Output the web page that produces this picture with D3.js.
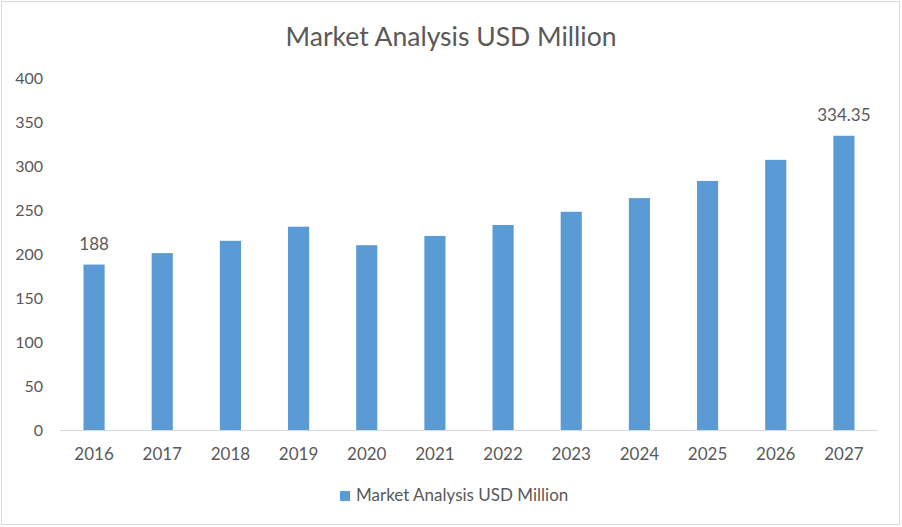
<!DOCTYPE html>
<html>
<head>
<meta charset="utf-8">
<script src="https://cdn.jsdelivr.net/npm/d3@7"></script>
<style>
  html, body { margin: 0; padding: 0; background: #fff; }
  svg { display: block; font-family: Lato, "Open Sans", sans-serif; }
</style>
</head>
<body>
<svg id="chart" width="902" height="527"></svg>
<script>
  // chart values
  var years = ["2016", "2017", "2018", "2019", "2020", "2021", "2022", "2023", "2024", "2025", "2026", "2027"];
  var values = [188, 201, 215, 231, 210, 220.5, 233, 248, 263.5, 283, 307, 334.35];
  var yTicks = [0, 50, 100, 150, 200, 250, 300, 350, 400];
  var labelled = { "2016": "188", "2027": "334.35" };
  var seriesName = "Market Analysis USD Million";

  var BLUE = "#5b9bd5", TEXT = "#595959", GRID = "#d9d9d9";
  var svg = d3.select("#chart");

  // outer frame
  svg.append("rect").attr("x", 1.5).attr("y", 1.5).attr("width", 898).attr("height", 523)
    .attr("fill", "#fff").attr("stroke", GRID).attr("stroke-width", 1);

  var x = d3.scaleBand().domain(years).range([60, 878]).paddingInner(0.69).paddingOuter(0.345);
  var y = d3.scaleLinear().domain([0, 400]).range([430, 78]);

  // title
  svg.append("text").attr("x", 451).attr("y", 46).attr("text-anchor", "middle")
    .attr("font-size", 26.5).attr("fill", TEXT).text(seriesName);

  // y tick labels (no axis line, no gridlines)
  svg.selectAll(".ytick").data(yTicks).enter().append("text").attr("class", "ytick")
    .attr("x", 43).attr("y", function (d) { return y(d); }).attr("dy", "0.35em")
    .attr("text-anchor", "end").attr("font-size", 16).attr("fill", TEXT)
    .text(function (d) { return d; });

  // bars
  svg.selectAll(".bar").data(years).enter().append("rect").attr("class", "bar")
    .attr("x", function (d) { return x(d); }).attr("width", x.bandwidth())
    .attr("y", function (d, i) { return y(values[i]); })
    .attr("height", function (d, i) { return y(0) - y(values[i]); })
    .attr("fill", BLUE);

  // baseline
  svg.append("line").attr("x1", 60).attr("x2", 878).attr("y1", y(0) + 0.5).attr("y2", y(0) + 0.5)
    .attr("stroke", GRID).attr("stroke-width", 1);

  // x labels
  svg.selectAll(".xtick").data(years).enter().append("text").attr("class", "xtick")
    .attr("x", function (d) { return x(d) + x.bandwidth() / 2; }).attr("y", 460)
    .attr("text-anchor", "middle").attr("font-size", 17).attr("fill", TEXT)
    .text(function (d) { return d; });

  // data labels on first and last bar
  svg.selectAll(".dlabel").data(years.filter(function (d) { return labelled[d]; })).enter()
    .append("text").attr("class", "dlabel")
    .attr("x", function (d) { return x(d) + x.bandwidth() / 2; })
    .attr("y", function (d) { return y(values[years.indexOf(d)]) - 15; })
    .attr("text-anchor", "middle").attr("font-size", 17).attr("fill", TEXT)
    .text(function (d) { return labelled[d]; });

  // legend
  svg.append("rect").attr("x", 340).attr("y", 491).attr("width", 10).attr("height", 10).attr("fill", BLUE);
  svg.append("text").attr("x", 356).attr("y", 501).attr("font-size", 17).attr("fill", TEXT).text(seriesName);
</script>
</body>
</html>
